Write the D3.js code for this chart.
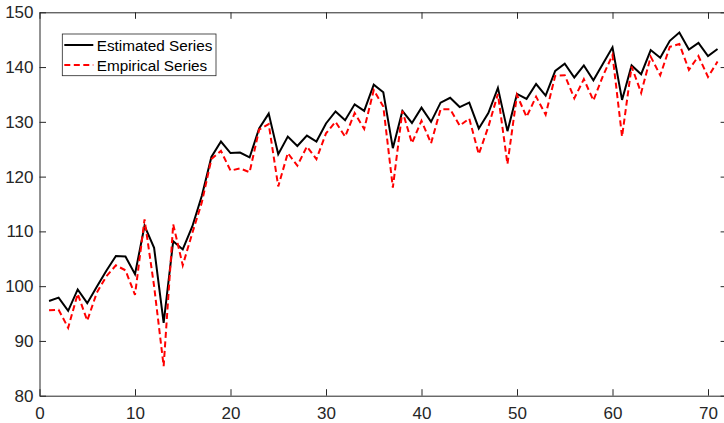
<!DOCTYPE html>
<html>
<head>
<meta charset="utf-8">
<script src="https://cdn.jsdelivr.net/npm/d3@7"></script>
<style>
  body { margin: 0; background: #fff; }
  svg { display: block; font-family: 'Liberation Sans', Arial, sans-serif; }
</style>
</head>
<body>
<div id="chart"></div>
<script>
// Data
var estimated = [
  97.3, 97.9, 95.5, 99.4, 96.9, 99.9, 102.8, 105.5, 105.4, 102.2,
  111.0, 107.0, 93.3, 108.2, 106.7, 110.9, 116.5, 123.6, 126.4, 124.3,
  124.4, 123.5, 128.8, 131.5, 124.1, 127.3, 125.6, 127.5, 126.4, 129.7,
  131.9, 130.3, 133.2, 132.0, 136.8, 135.4, 125.2, 132.0, 129.8, 132.6,
  130.0, 133.5, 134.4, 132.7, 133.5, 128.8, 131.6, 136.2, 128.3, 135.1,
  134.2, 136.9, 134.8, 139.3, 140.6, 138.1, 140.3, 137.6, 140.6, 143.6,
  134.0, 140.3, 138.7, 143.1, 141.7, 144.8, 146.3, 143.2, 144.4, 142.0,
  143.3
];

var empirical = [
  95.6, 95.7, 92.4, 98.6, 93.7, 98.8, 101.8, 103.8, 102.9, 98.4,
  112.2, 100.0, 85.4, 111.3, 103.8, 109.7, 115.3, 123.2, 124.7, 121.1,
  121.5, 120.8, 128.6, 129.6, 118.2, 124.3, 122.0, 125.5, 123.2, 127.9,
  130.0, 127.3, 131.6, 128.7, 135.8, 132.8, 118.0, 132.0, 126.1, 130.2,
  126.1, 132.3, 132.3, 129.3, 130.6, 124.1, 129.1, 135.1, 122.3, 134.9,
  130.9, 134.6, 131.3, 138.4, 138.5, 134.3, 137.8, 133.9, 138.4, 142.2,
  127.3, 140.1, 135.3, 141.9, 138.5, 143.7, 144.2, 139.5, 142.0, 138.2,
  141.0
];

var xTicks = [0, 10, 20, 30, 40, 50, 60, 70];
var yTicks = [80, 90, 100, 110, 120, 130, 140, 150];
var seriesNames = ['Estimated Series', 'Empirical Series'];

var width = 724,
    height = 423,
    margin = { left: 39.5, top: 12.3, bottom: 27.3 },
    axisColor = '#262626',
    tickLen = 6.5;

var svg = d3.select('#chart').append('svg')
    .attr('width', width)
    .attr('height', height);

var x = d3.scaleLinear().domain([0, 72]).range([margin.left, margin.left + 72 * 9.55]);
var y = d3.scaleLinear().domain([80, 150]).range([height - margin.bottom, margin.top]);

var x0 = x.range()[0], x1 = x.range()[1],
    yb = y.range()[0], yt = y.range()[1];

// Axes (ticks inward, box style)
var g = svg.append('g');

g.append('g')
    .attr('transform', 'translate(0,' + yb + ')')
    .call(d3.axisBottom(x).tickValues(xTicks).tickSizeInner(-tickLen).tickSizeOuter(0).tickPadding(11))
    .call(function(s) {
      s.select('.domain').attr('stroke', axisColor);
      s.selectAll('.tick line').attr('stroke', axisColor);
      s.selectAll('.tick text').attr('fill', axisColor).attr('font-size', 17);
    });

g.append('g')
    .attr('transform', 'translate(' + x0 + ',0)')
    .call(d3.axisLeft(y).tickValues(yTicks).tickSizeInner(-tickLen).tickSizeOuter(0).tickPadding(6))
    .call(function(s) {
      s.select('.domain').attr('stroke', axisColor);
      s.selectAll('.tick line').attr('stroke', axisColor);
      s.selectAll('.tick text').attr('fill', axisColor).attr('font-size', 17);
    });

// Top and right edges of the box
g.append('g')
    .attr('transform', 'translate(0,' + yt + ')')
    .call(d3.axisTop(x).tickValues(xTicks).tickSizeInner(-tickLen).tickSizeOuter(0).tickFormat(''))
    .call(function(s) {
      s.select('.domain').attr('stroke', axisColor);
      s.selectAll('.tick line').attr('stroke', axisColor);
    });

g.append('g')
    .attr('transform', 'translate(' + x1 + ',0)')
    .call(d3.axisRight(y).tickValues(yTicks).tickSizeInner(-tickLen).tickSizeOuter(0).tickFormat(''))
    .call(function(s) {
      s.select('.domain').attr('stroke', axisColor);
      s.selectAll('.tick line').attr('stroke', axisColor);
    });

// Lines
var line = d3.line()
    .x(function(d, i) { return x(i + 1); })
    .y(function(d) { return y(d); });

svg.append('path')
    .datum(estimated)
    .attr('d', line)
    .attr('fill', 'none')
    .attr('stroke', '#000')
    .attr('stroke-width', 2)
    .attr('stroke-linejoin', 'miter');

svg.append('path')
    .datum(empirical)
    .attr('d', line)
    .attr('fill', 'none')
    .attr('stroke', '#ff0000')
    .attr('stroke-width', 2)
    .attr('stroke-dasharray', '6,3.5');

// Legend
var legend = svg.append('g').attr('transform', 'translate(62.3,34)');

legend.append('rect')
    .attr('width', 153.7)
    .attr('height', 41.7)
    .attr('fill', '#fff')
    .attr('stroke', axisColor)
    .attr('stroke-width', 0.8);

var legendStyles = [
  { color: '#000', dash: null },
  { color: '#ff0000', dash: '6,3.5' }
];

seriesNames.forEach(function(name, i) {
  var ly = 11 + i * 20;
  legend.append('line')
      .attr('x1', 2).attr('x2', 31)
      .attr('y1', ly).attr('y2', ly)
      .attr('stroke', legendStyles[i].color)
      .attr('stroke-width', 2)
      .attr('stroke-dasharray', legendStyles[i].dash);
  legend.append('text')
      .attr('x', 34.4)
      .attr('y', ly)
      .attr('dy', '0.36em')
      .attr('font-size', 15.3)
      .attr('fill', '#000')
      .text(name);
});
</script>
</body>
</html>
